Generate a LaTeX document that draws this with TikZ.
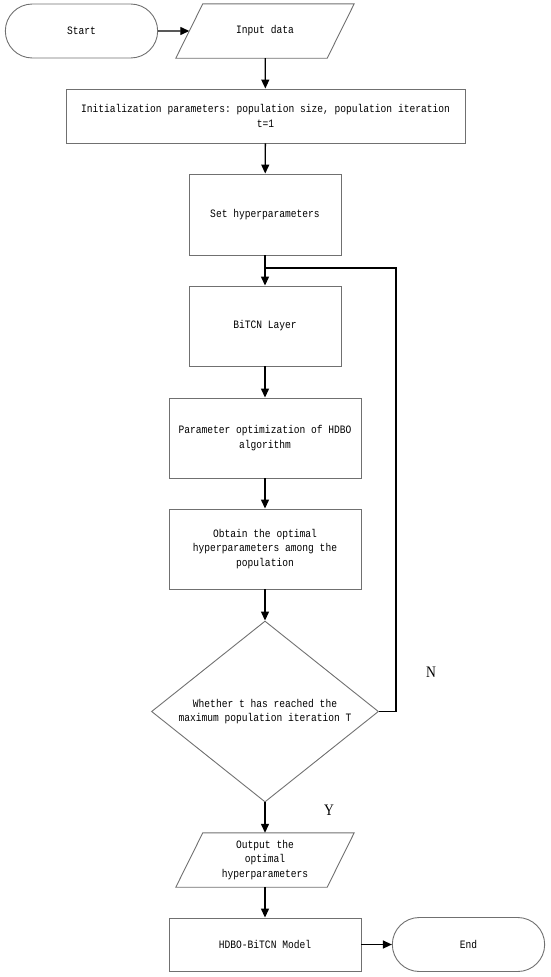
\documentclass[tikz,border=0pt]{standalone}
\usepackage{fontspec}
\setmonofont[FakeStretch=0.85]{Liberation Mono}
\newfontfamily\ynfont[FakeStretch=0.85]{Liberation Serif}
\usetikzlibrary{arrows.meta, shapes.geometric, shapes.misc}
\definecolor{fGray}{HTML}{707070}

\begin{document}
\begin{tikzpicture}[x=1pt, y=-1pt,
    every node/.style={font=\ttfamily\fontsize{11.3}{14.3}\selectfont, text=black, align=center},
    outline/.style={draw=fGray, line width=0.9pt},
    proc/.style={outline, rectangle, inner sep=0pt},
    term/.style={outline, rounded rectangle, minimum width=159pt, minimum height=54pt},
    io/.style={rectangle, minimum width=151pt, minimum height=54pt, inner sep=0pt},
    cond/.style={outline, diamond, aspect=1.5, inner sep=0pt,
      minimum width=227pt, minimum height=181pt},
    flow/.style={-{Triangle[length=9pt, width=8pt]}, line width=1.3pt},
    yn/.style={font=\ynfont\fontsize{16}{16}\selectfont}]
  \useasboundingbox (0,0) rectangle (550,977);
  % blocks
  \node[term] (start) at (81.5,31) {Start};
  \node[io] (input) at (265,31) {Input data};
  \node[proc, minimum width=399pt, minimum height=54pt] (init) at (265.5,116)
    {Initialization parameters: population size, population iteration\\t=1};
  \node[proc, minimum width=152pt, minimum height=81pt] (hyper) at (265,214.5) {Set hyperparameters};
  \node[proc, minimum width=152pt, minimum height=80pt] (bitcn) at (265,326) {BiTCN Layer};
  \node[proc, minimum width=192pt, minimum height=80pt] (hdbo) at (265,438)
    {Parameter optimization of HDBO\\algorithm};
  \node[proc, minimum width=192pt, minimum height=80pt] (best) at (265,549)
    {Obtain the optimal\\hyperparameters among the\\population};
  \node[cond] (check) at (265,711.5)
    {Whether t has reached the\\maximum population iteration T};
  \node[io] (output) at (265,860) {Output the\\optimal\\hyperparameters};
  \node[proc, minimum width=192pt, minimum height=53pt] (model) at (265,944.5) {HDBO-BiTCN Model};
  \node[term] (end) at (468.5,944.5) {End};
  \node[yn] (nlab) at (431,672) {N};
  \node[yn] (ylab) at (329,810) {Y};
  % slanted data boxes
  \foreach \n in {input, output}
    \draw[outline] ([xshift=13.5pt]\n.north west) -- ([xshift=13.5pt]\n.north east)
      -- ([xshift=-13.5pt]\n.south east) -- ([xshift=-13.5pt]\n.south west) -- cycle;
  % connectors
  \draw[flow] (start) -- (input);
  \draw[flow] (input) -- (init);
  \draw[flow] (init) -- (hyper);
  \draw[flow] (hyper) -- (bitcn);
  \draw[flow] (bitcn) -- (hdbo);
  \draw[flow] (hdbo) -- (best);
  \draw[flow] (best) -- (check);
  \draw[flow] (check) -- (output);
  \draw[flow] (output) -- (model);
  \draw[flow] (model) -- (end);
  % loop back
  \coordinate (join) at (265,268);
  \coordinate (corner) at (396,268);
  \draw[line width=1.3pt] (check.east) -| (corner) -- (join);
\end{tikzpicture}
\end{document}
